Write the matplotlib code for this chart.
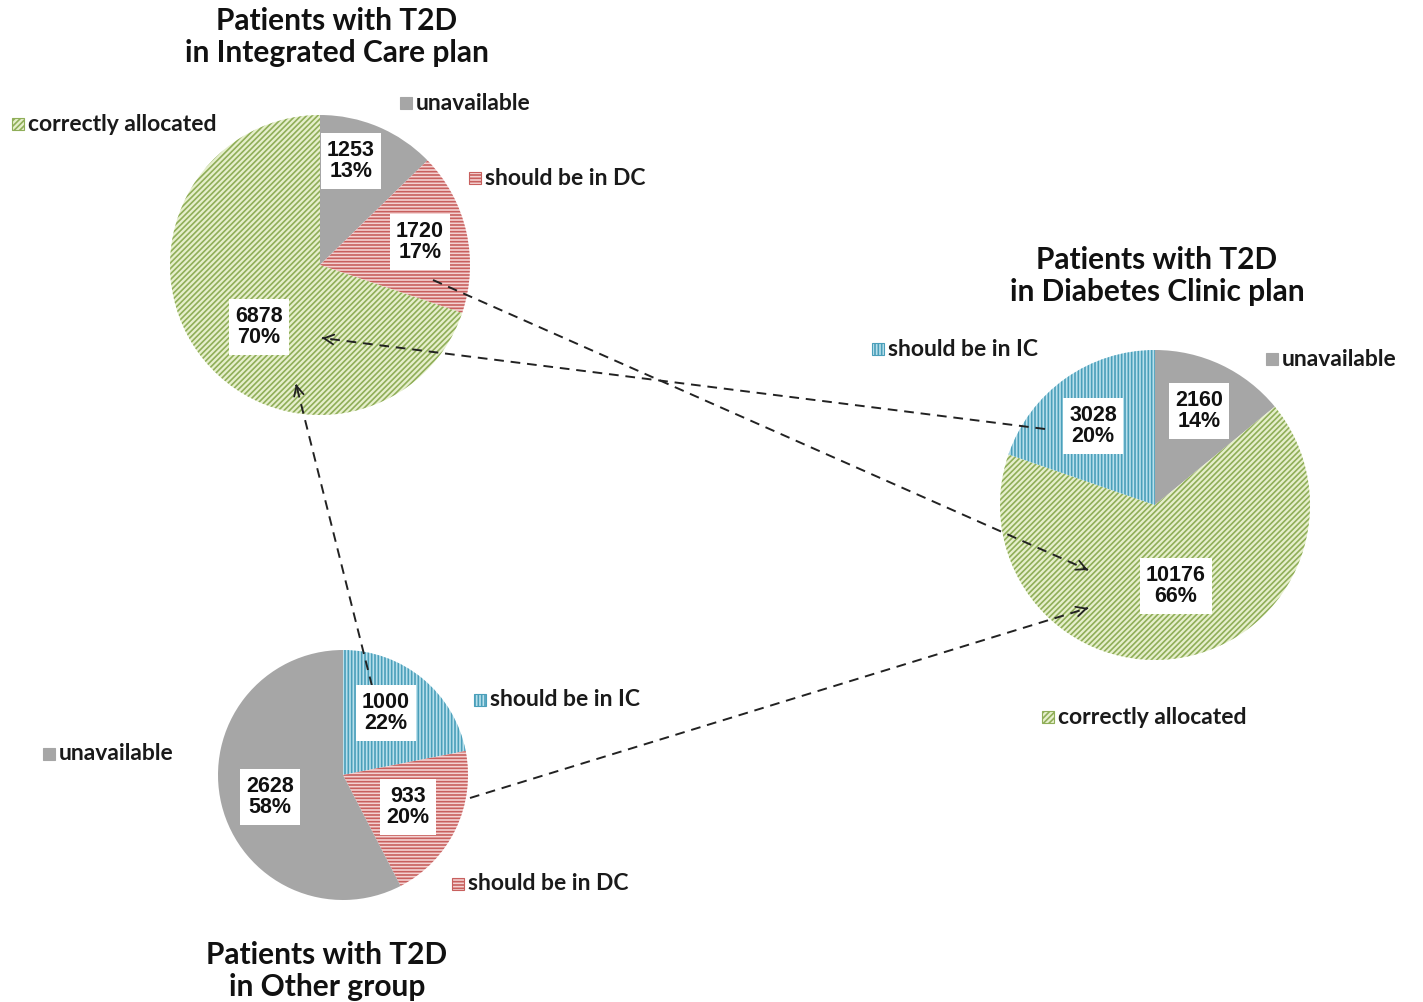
import matplotlib
import numpy as np

matplotlib.use("Agg")
import matplotlib.pyplot as plt
from matplotlib.patches import Rectangle

W, H = 1423, 1002

# --- data ---------------------------------------------------------------
ic_labels = ["unavailable", "should be in DC", "correctly allocated"]
ic_counts = [1253, 1720, 6878]

dc_labels = ["unavailable", "correctly allocated", "should be in IC"]
dc_counts = [2160, 10176, 3028]

other_labels = ["should be in IC", "should be in DC", "unavailable"]
other_counts = [1000, 933, 2628]

ic_title = "Patients with T2D\nin Integrated Care plan"
dc_title = "Patients with T2D\nin Diabetes Clinic plan"
other_title = "Patients with T2D\nin Other group"

# category -> (face colour, hatch colour, hatch)
STYLES = {
    "unavailable": ("#a6a6a6", "#a6a6a6", None),
    "should be in DC": ("#f4d2d2", "#c8605e", "-----"),
    "should be in IC": ("#b9e0ec", "#4a9fba", "|||||"),
    "correctly allocated": ("#e6efcc", "#8fae58", "//////"),
}

plt.rcParams["hatch.linewidth"] = 1.2


def Y(y):
    return H - y


def draw_pie(ax, labels, counts, center, radius, title, title_y,
             label_pos, legend_pos):
    total = sum(counts)
    faces = [STYLES[k][0] for k in labels]
    wedges, _ = ax.pie(
        counts,
        center=(center[0], Y(center[1])),
        radius=radius,
        startangle=90,
        counterclock=False,
        colors=faces,
        wedgeprops=dict(linewidth=0),
    )
    for wedge, name in zip(wedges, labels):
        face, hcol, hatch = STYLES[name]
        wedge.set_edgecolor(hcol)
        wedge.set_linewidth(0)
        if hatch:
            wedge.set_hatch(hatch)

    for name, count, (lx, ly) in zip(labels, counts, label_pos):
        pct = round(100 * count / total)
        ax.text(lx, Y(ly), f"{count}\n{pct}%", ha="center", va="center",
                fontsize=15.5, fontweight="bold", family="Liberation Sans",
                linespacing=1.05, color="#111111",
                bbox=dict(boxstyle="square,pad=0.3", fc="white", ec="none"))

    for name, (sx, sy) in zip(labels, legend_pos):
        face, hcol, hatch = STYLES[name]
        ax.add_patch(Rectangle((sx, Y(sy) - 6), 12, 12, facecolor=face,
                               edgecolor=hcol, hatch=hatch, linewidth=0.8))
        ax.text(sx + 16, Y(sy), name, ha="left", va="center",
                fontsize=16.5, fontweight="bold", family="Lato",
                color="#1a1a1a")

    ax.text(center[0] + title_y[0], Y(title_y[1]), title, ha="center",
            va="center", fontsize=21.5, fontweight="bold", family="Lato",
            linespacing=1.2, color="#111111")


def dashed_arrow(ax, start, tip):
    sx, sy = start[0], Y(start[1])
    tx, ty = tip[0], Y(tip[1])
    ax.plot([sx, tx], [sy, ty], color="#222222", lw=1.4,
            linestyle=(0, (5, 3.5)), solid_capstyle="butt")
    d = np.array([tx - sx, ty - sy], dtype=float)
    d /= np.hypot(*d)
    ax.annotate("", xy=(tx, ty), xytext=(tx - 2 * d[0], ty - 2 * d[1]),
                arrowprops=dict(arrowstyle="->,head_length=0.7,head_width=0.35",
                                color="#222222", lw=1.3,
                                shrinkA=0, shrinkB=0))


fig = plt.figure(figsize=(W / 100, H / 100), dpi=100)
ax = fig.add_axes([0, 0, 1, 1])

draw_pie(ax, ic_labels, ic_counts, (320, 265), 150, ic_title, (17, 37),
         [(351, 161), (420, 242), (259, 327)],
         [(400, 103), (469, 178), (12, 124)])
draw_pie(ax, dc_labels, dc_counts, (1155, 505), 155, dc_title, (2, 276),
         [(1199, 411), (1176, 586), (1093, 426)],
         [(1266, 359), (1042, 717), (872, 349)])
draw_pie(ax, other_labels, other_counts, (343, 775), 125, other_title,
         (-16, 971),
         [(386, 713), (408, 807), (270, 797)],
         [(474, 700), (452, 884), (43, 754)])

dashed_arrow(ax, (433, 280), (1088, 570))
dashed_arrow(ax, (1045, 429), (322, 338))
dashed_arrow(ax, (372, 686), (296, 384))
dashed_arrow(ax, (470, 798), (1088, 608))

ax.set_xlim(0, W)
ax.set_ylim(0, H)
ax.set_aspect("equal")
ax.axis("off")

fig.savefig("out.png", dpi=100, facecolor="white")
